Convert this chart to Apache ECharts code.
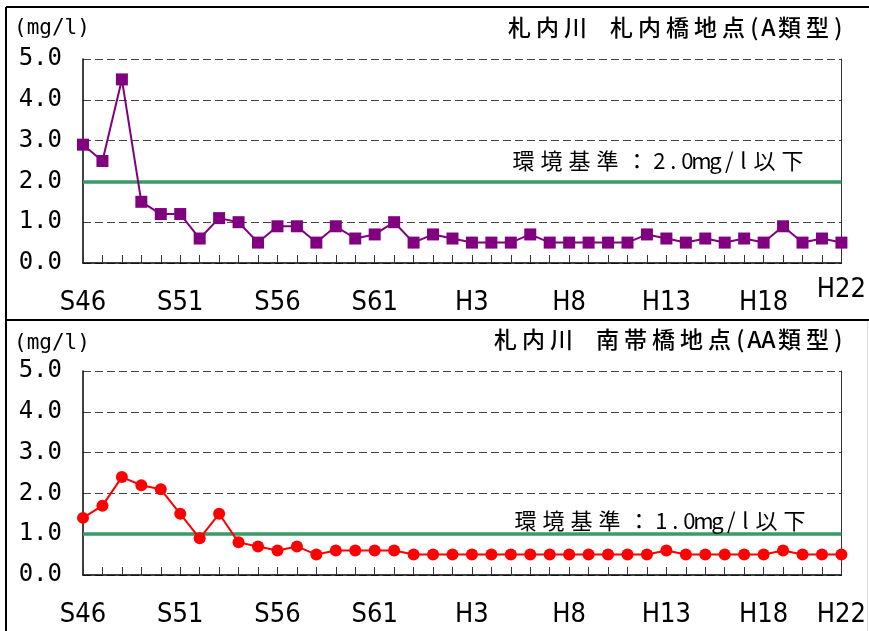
<!DOCTYPE html>
<html>
<head>
<meta charset="utf-8">
<script src="https://cdn.jsdelivr.net/npm/echarts@6/dist/echarts.min.js"></script>
<style>
  html, body { margin: 0; padding: 0; background: #fff; }
  #chart { width: 869px; height: 631px; }
</style>
</head>
<body>
<div id="chart"></div>
<script>
// Fiscal years S46 (1971) to H22 (2010)
const years = [
  'S46','S47','S48','S49','S50','S51','S52','S53','S54','S55',
  'S56','S57','S58','S59','S60','S61','S62','S63',
  'H1','H2','H3','H4','H5','H6','H7','H8','H9','H10',
  'H11','H12','H13','H14','H15','H16','H17','H18','H19','H20','H21','H22'
];
const tickLabels = ['S46','S51','S56','S61','H3','H8','H13','H18','H22'];
const yTicks = [0, 1, 2, 3, 4, 5];

// BOD (mg/l), 札内橋地点
const satsunaiBridge = [
  2.9, 2.5, 4.5, 1.5, 1.2, 1.2, 0.6, 1.1, 1.0, 0.5,
  0.9, 0.9, 0.5, 0.9, 0.6, 0.7, 1.0, 0.5,
  0.7, 0.6, 0.5, 0.5, 0.5, 0.7, 0.5, 0.5, 0.5, 0.5,
  0.5, 0.7, 0.6, 0.5, 0.6, 0.5, 0.6, 0.5, 0.9, 0.5, 0.6, 0.5
];
// BOD (mg/l), 南帯橋地点
const nantaiBridge = [
  1.4, 1.7, 2.4, 2.2, 2.1, 1.5, 0.9, 1.5, 0.8, 0.7,
  0.6, 0.7, 0.5, 0.6, 0.6, 0.6, 0.6, 0.5,
  0.5, 0.5, 0.5, 0.5, 0.5, 0.5, 0.5, 0.5, 0.5, 0.5,
  0.5, 0.5, 0.6, 0.5, 0.5, 0.5, 0.5, 0.5, 0.6, 0.5, 0.5, 0.5
];
const standards = [2.0, 1.0];
const panelTitles = ['札内川　札内橋地点(A類型)', '札内川　南帯橋地点(AA類型)'];
const seriesNames = ['札内橋地点', '南帯橋地点'];

const JP = '"Noto Sans CJK JP", sans-serif';
const MONO = '"DejaVu Sans Mono", monospace';
const NARROW = '"Liberation Sans Narrow", "DejaVu Sans Condensed", "Liberation Sans", sans-serif';

// Fixed-pitch captions: every character sits in its own cell,
// full-width glyphs in wide cells, ASCII in half cells.
function pitched(str) {
  return Array.from(str).map(ch => {
    if (ch === '　') return '{sp|' + ch + '}';
    if (ch === '：') return '{w|' + ch + '}';
    return (ch.charCodeAt(0) < 0x2000 ? '{h|' : '{f|') + ch + '}';
  }).join('');
}
function pitchRich(size, weight, full, half, space, wide) {
  const base = { fontFamily: JP, fontSize: size, fontWeight: weight, color: '#000', align: 'center' };
  return {
    f: Object.assign({ width: full }, base),
    h: Object.assign({ width: half }, base),
    sp: Object.assign({ width: space }, base),
    w: Object.assign({ width: wide }, base)
  };
}

const grids = [
  { left: 83, top: 59, width: 765, height: 204 },
  { left: 83, top: 371, width: 765, height: 204 }
];

const xAxes = [];
const yAxes = [];
grids.forEach((g, i) => {
  // main category axis
  xAxes.push({
    type: 'category', gridIndex: i, data: years, boundaryGap: false,
    axisLine: { lineStyle: { color: '#000', width: 1.5 } },
    axisTick: { show: true, inside: true, length: 8, interval: 0, lineStyle: { color: '#333' } },
    axisLabel: {
      interval: (idx, v) => tickLabels.includes(v) && !(i === 0 && v === 'H22'),
      margin: 26, color: '#000', fontFamily: NARROW, fontSize: 27
    },
    splitLine: { show: false }
  });
  yAxes.push({
    type: 'value', gridIndex: i, min: yTicks[0], max: yTicks[yTicks.length - 1], interval: 1,
    axisLine: { show: true, lineStyle: { color: '#000', width: 1.5 } },
    axisTick: { show: false },
    axisLabel: { margin: 21, color: '#000', fontFamily: MONO, fontSize: 24, formatter: v => v.toFixed(1) },
    splitLine: { show: true, lineStyle: { color: '#444', type: [8, 4], width: 1 } }
  });
  // right frame of plot area
  yAxes.push({
    type: 'value', gridIndex: i, position: 'right', min: 0, max: 5, interval: 1,
    axisLine: { show: true, lineStyle: { color: '#333', width: 1 } },
    axisTick: { show: false }, axisLabel: { show: false }, splitLine: { show: false }
  });
});
// final-year label of the upper panel sits a bit higher
xAxes.push({
  type: 'category', gridIndex: 0, data: years, boundaryGap: false, position: 'bottom',
  axisLine: { show: false }, axisTick: { show: false }, splitLine: { show: false },
  axisLabel: { interval: (idx, v) => v === 'H22', margin: 13, color: '#000', fontFamily: NARROW, fontSize: 27 }
});

const titles = [];
panelTitles.forEach((t, i) => {
  titles.push({
    text: pitched(t), right: 24, top: i === 0 ? 11 : 323,
    textStyle: { fontFamily: JP, fontSize: 23, fontWeight: 500, color: '#000', rich: pitchRich(23, 500, 28, 14, 18, 28) }
  });
  titles.push({
    text: '(mg/l)', left: 9, top: i === 0 ? 13 : 328,
    textStyle: { fontFamily: MONO, fontSize: 21, fontWeight: 'normal', color: '#000' }
  });
});

function stdMarkLine(std, dist) {
  return {
    silent: true, symbol: 'none', z: 1,
    lineStyle: { color: '#3a9a6a', width: 3.5, type: 'solid' },
    label: {
      show: true, position: 'insideEndTop', distance: dist,
      formatter: pitched('環境基準：' + std.toFixed(1) + 'mg/l以下'),
      rich: pitchRich(22, 'normal', 28, 14, 18, 31)
    },
    data: [{ yAxis: std }]
  };
}

const option = {
  animation: false,
  backgroundColor: '#fff',
  title: titles,
  grid: grids,
  xAxis: xAxes,
  yAxis: yAxes,
  series: [
    {
      name: seriesNames[0], type: 'line', xAxisIndex: 0, yAxisIndex: 0,
      data: satsunaiBridge, symbol: 'rect', symbolSize: 12, z: 3,
      lineStyle: { color: '#800080', width: 2 }, itemStyle: { color: '#800080' },
      markLine: stdMarkLine(standards[0], [35, 10])
    },
    {
      name: seriesNames[1], type: 'line', xAxisIndex: 1, yAxisIndex: 2,
      data: nantaiBridge, symbol: 'circle', symbolSize: 12, z: 3,
      lineStyle: { color: '#ff0000', width: 2 }, itemStyle: { color: '#ff0000' },
      markLine: stdMarkLine(standards[1], [33, 3])
    }
  ],
  graphic: [
    { type: 'line', shape: { x1: 6, y1: 7, x2: 6, y2: 631 }, style: { stroke: '#000', lineWidth: 2 } },
    { type: 'line', shape: { x1: 6, y1: 7, x2: 869, y2: 7 }, style: { stroke: '#000', lineWidth: 2 } },
    { type: 'line', shape: { x1: 6, y1: 320, x2: 869, y2: 320 }, style: { stroke: '#000', lineWidth: 2 } },
    { type: 'line', shape: { x1: 867.5, y1: 321, x2: 867.5, y2: 631 }, style: { stroke: '#ddd', lineWidth: 1 } }
  ]
};

const chart = echarts.init(document.getElementById('chart'), null, { renderer: 'canvas' });
chart.setOption(option);
</script>
</body>
</html>
